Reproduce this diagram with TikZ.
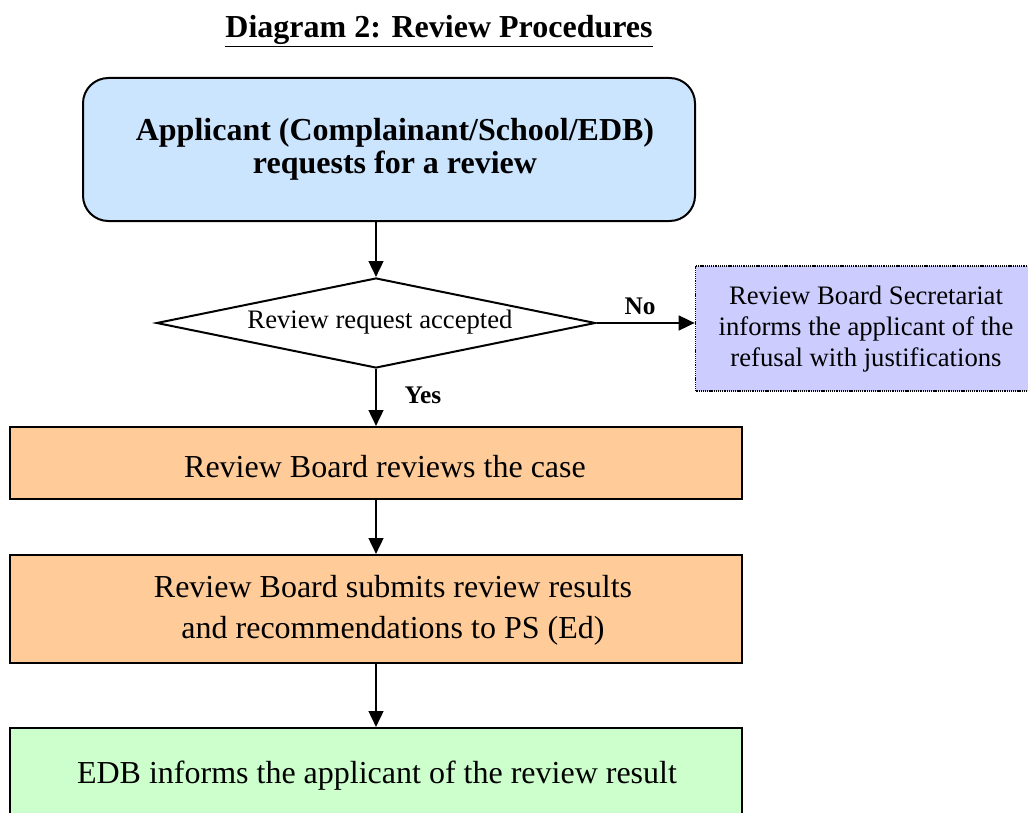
\documentclass[tikz,border=0pt]{standalone}
\usepackage{fontspec}
\setmainfont{Liberation Serif}
\usetikzlibrary{shapes.geometric,arrows.meta}
\definecolor{boxblue}{RGB}{204,229,255}
\definecolor{boxpeach}{RGB}{255,204,153}
\definecolor{boxgreen}{RGB}{204,255,204}
\definecolor{boxlav}{RGB}{204,204,255}
\tikzset{
  boxbase/.style={draw=black, line width=1.5pt, rectangle, inner sep=0pt},
  stagebox/.style={boxbase, fill=boxpeach, minimum width=549pt},
  lbl/.style={align=center, inner sep=0pt},
  arr/.style={line width=1.9pt, -{Triangle[length=12pt,width=11pt]}},
  yn/.style={font=\fontsize{19}{21}\selectfont\bfseries, inner sep=0pt}
}
\begin{document}
\begin{tikzpicture}[x=0.75pt,y=-0.75pt]
\useasboundingbox (0,0) rectangle (1028,813);
\clip (0,0) rectangle (1028,813);
\fill[white] (0,0) rectangle (1028,813);

% title
\node[lbl, font=\fontsize{24}{28}\selectfont\bfseries] (title) at (439,31) {\underline{Diagram 2: Review Procedures}};

% box 1
\node[boxbase, fill=boxblue, rounded corners=19pt, minimum width=459pt, minimum height=107.25pt] (b1) at (389,149.5) {};
\node[lbl, font=\fontsize{24}{24.75}\selectfont\bfseries] (t1) at (395,149) {Applicant (Complainant/School/EDB)\\requests for a review};

% decision
\node[diamond, draw=black, line width=1.5pt, fill=white, aspect=4.88, inner sep=0pt, minimum width=329.25pt, minimum height=67.5pt] (dia) at (376,323) {};
\node[lbl, font=\fontsize{20}{24}\selectfont] (td) at (380,322) {Review request accepted};

% refusal box
\node[boxbase, fill=boxlav, line width=1.2pt, dash pattern=on 0.8pt off 0.6pt, minimum width=249.75pt, minimum height=93.75pt] (rb) at (862,328.5) {};
\node[lbl, font=\fontsize{20}{23}\selectfont] (trb) at (866,329) {Review Board Secretariat\\informs the applicant of the\\refusal with justifications};

% box 2
\node[stagebox, minimum height=54pt] (b2) at (376,463) {};
\node[lbl, font=\fontsize{24}{28}\selectfont] (t2) at (385,467) {Review Board reviews the case};

% box 3
\node[stagebox, minimum height=81pt] (b3) at (376,609) {};
\node[lbl, font=\fontsize{24}{30.75}\selectfont] (t3) at (393,610) {Review Board submits review results\\and recommendations to PS (Ed)};

% box 4
\node[stagebox, fill=boxgreen, minimum height=72pt] (b4) at (376,776) {};
\node[lbl, font=\fontsize{24}{28}\selectfont] (t4) at (377,776) {EDB informs the applicant of the review result};

% connectors
\draw[arr] (dia.north |- b1.south) -- (dia.north);
\draw[arr] (dia.east) -- (dia.east -| rb.west);
\draw[arr] (dia.south) -- (b2.north);
\draw[arr] (b2.south) -- (b3.north);
\draw[arr] (b3.south) -- (b4.north);

\node[yn] (no) at (640,306) {No};
\node[yn] (yes) at (423,395) {Yes};
\end{tikzpicture}
\end{document}
